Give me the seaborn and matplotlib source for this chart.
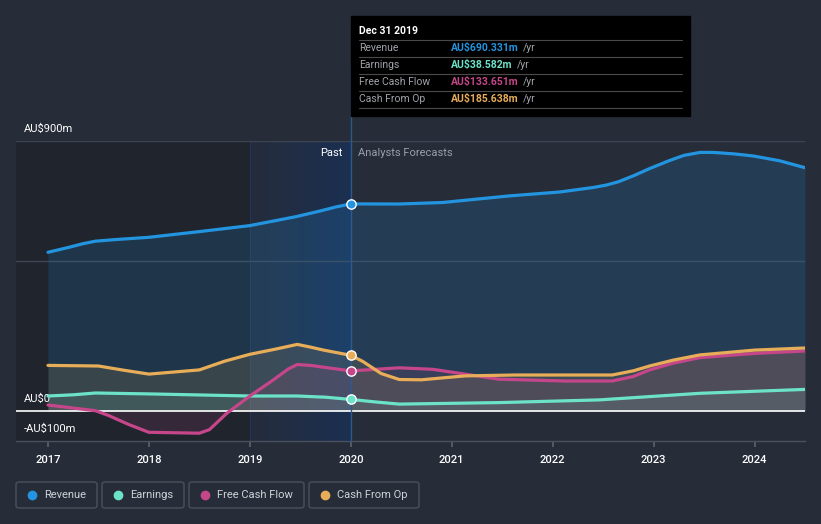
import numpy as np
import pandas as pd
import seaborn as sns
import matplotlib.pyplot as plt
from matplotlib.patches import FancyBboxPatch, Rectangle

# values in AU$m
rev_x = [2017.0, 2017.2, 2017.35, 2017.47, 2017.65, 2018.0, 2018.5, 2019.0,
         2019.46, 2019.7, 2019.85, 2020.0, 2020.48, 2020.91, 2021.57, 2022.07,
         2022.4, 2022.53, 2022.65, 2022.8, 2022.96, 2023.15, 2023.3, 2023.46,
         2023.59, 2023.8, 2023.99, 2024.25, 2024.5]
rev_y = [529, 545, 558, 566, 571, 579, 598, 618,
         648, 667, 680, 690.331, 690, 695, 717, 730,
         745, 753, 764, 784, 808, 834, 852, 862,
         862, 857, 850, 834, 811]

earn_x = [2017.0, 2017.25, 2017.47, 2018.0, 2019.0, 2019.47, 2019.75, 2020.0,
          2020.25, 2020.48, 2021.47, 2022.46, 2022.96, 2023.46, 2024.5]
earn_y = [50, 54, 60, 57, 50, 50, 46, 38.582,
          30, 23, 28, 37, 48, 59, 72]

fcf_x = [2017.0, 2017.47, 2017.6, 2017.8, 2018.0, 2018.5, 2018.6, 2018.77,
         2019.0, 2019.23, 2019.38, 2019.47, 2019.6, 2020.0, 2020.48, 2020.81,
         2021.15, 2021.47, 2022.13, 2022.59, 2022.8, 2022.96, 2023.2, 2023.46,
         2024.0, 2024.5]
fcf_y = [20, 1, -15, -45, -71, -74, -62, -8,
         50, 103, 140, 155, 152, 133.651, 144, 139,
         122, 106, 100, 100, 115, 137, 160, 178,
         192, 200]

cfo_x = [2017.0, 2017.5, 2017.75, 2018.0, 2018.5, 2018.75, 2019.0, 2019.25,
         2019.47, 2019.6, 2019.73, 2020.0, 2020.12, 2020.3, 2020.48, 2020.7,
         2021.13, 2021.63, 2022.59, 2022.8, 2022.96, 2023.2, 2023.46, 2024.0,
         2024.5]
cfo_y = [152, 150, 136, 123, 137, 166, 189, 206,
         222, 213, 203, 185.638, 165, 125, 105, 104,
         117, 120, 120, 134, 150, 170, 187, 203,
         210]

names = ['Revenue', 'Earnings', 'Free Cash Flow', 'Cash From Op']
colors = ['#2394df', '#6ce3c9', '#c5468a', '#e8ad58']
tip_values = ['AU$690.331m', 'AU$38.582m', 'AU$133.651m', 'AU$185.638m']
years = [2017, 2018, 2019, 2020, 2021, 2022, 2023, 2024]

bg = '#262c38'
sns.set_theme(style='dark')
plt.rcParams['font.family'] = ['Roboto', 'DejaVu Sans']

frames = []
for n, xs, ys in zip(names, [rev_x, earn_x, fcf_x, cfo_x], [rev_y, earn_y, fcf_y, cfo_y]):
    frames.append(pd.DataFrame({'year': xs, 'value': ys, 'series': n}))
df = pd.concat(frames)

fig = plt.figure(figsize=(8.21, 5.24), dpi=100, facecolor=bg)
ax = fig.add_axes([16 / 821, 1 - 441 / 524, 789 / 821, 300 / 524])
ax.set_facecolor(bg)
x0 = 2017 - 32 / 101.0
x1 = 2024.5
ax.set_xlim(x0, x1)
ax.set_ylim(-100, 900)

# past shading
ax.axvspan(x0, 2019, color='black', alpha=0.18, lw=0, zorder=0)
grad = np.zeros((2, 256, 4))
grad[..., 0] = 0.10
grad[..., 1] = 0.19
grad[..., 2] = 0.34
grad[..., 3] = np.linspace(0.1, 0.85, 256)[None, :]
ax.imshow(grad, extent=[2019, 2020, -100, 900], aspect='auto', zorder=0.5, interpolation='bilinear')
ax.axvline(2019, color='#23365a', lw=0.8, zorder=0.6)

# gridlines
for g in [900, 500]:
    ax.axhline(g, color='#3e4552', lw=1, zorder=0.7)
ax.axhline(0, color='white', lw=1.2, zorder=3)

# area fills
for n, c in zip(names, colors):
    d = df[df.series == n]
    ax.fill_between(d.year, d.value, 0, color=c, alpha=0.17 if n == 'Revenue' else 0.13, lw=0, zorder=1)

sns.lineplot(data=df, x='year', y='value', hue='series', palette=dict(zip(names, colors)),
             hue_order=names, lw=2.3, ax=ax, legend=False, zorder=4, sort=False,
             estimator=None)
for line in ax.lines:
    line.set_solid_joinstyle('round')
    line.set_solid_capstyle('round')

# markers at Dec 2019
for n, c in zip(names, colors):
    d = df[(df.series == n) & (df.year == 2020.0)]
    ax.scatter(d.year, d.value, s=45, color=c, edgecolor='white', linewidth=1, zorder=6)

ax.plot([2020, 2020], [-100, 1140], color='#2d5a8e', lw=1, zorder=5, clip_on=False)

ax.set_xticks(years)
ax.set_xticklabels([str(y) for y in years], color='white', fontsize=8, fontweight='medium')
ax.tick_params(axis='x', length=4, color='#5a606c', pad=6, bottom=True)
ax.set_yticks([])
ax.set_xlabel('')
ax.set_ylabel('')
for s in ['top', 'right', 'left']:
    ax.spines[s].set_visible(False)
ax.spines['bottom'].set_color('#4a505c')
ax.spines['bottom'].set_linewidth(1)

# y labels
ytrans = ax.get_yaxis_transform()
ax.text(8 / 789, 900 + 12 / 0.3, 'AU$900m', transform=ytrans, color='white', fontsize=8, va='center', clip_on=False)
ax.text(8 / 789, 0 + 12 / 0.3, 'AU$0', transform=ytrans, color='white', fontsize=8, va='center', clip_on=False)
ax.text(8 / 789, -100 + 12 / 0.3, '-AU$100m', transform=ytrans, color='white', fontsize=8, va='center', clip_on=False)

ax.text(2019.92, 860, 'Past', color='white', fontsize=8, ha='right', va='center')
ax.text(2020.07, 860, 'Analysts Forecasts', color='#9aa0aa', fontsize=8, ha='left', va='center')

# tooltip
fig.patches.append(Rectangle((351 / 821, 1 - 116 / 524), 339 / 821, 100 / 524,
                             transform=fig.transFigure, color='black', zorder=10))
fig.text(359 / 821, 1 - 31 / 524, 'Dec 31 2019', color='white', fontsize=7.5,
         fontweight='bold', va='center', zorder=11)
for i, (n, c, v) in enumerate(zip(names, colors, tip_values)):
    yy = 48 + 17 * i
    fig.text(359 / 821, 1 - yy / 524, n, color='#a0a4aa', fontsize=7.5, va='center', zorder=11)
    fig.text(451 / 821, 1 - yy / 524, v, color=c, fontsize=7.5, fontweight='bold', va='center', zorder=11)
    fig.text((451 + 6.2 * len(v) + 4) / 821, 1 - yy / 524, '/yr', color='#a0a4aa', fontsize=7.5, va='center', zorder=11)
for yy in [40, 57, 74, 91, 108]:
    fig.add_artist(plt.Line2D([359 / 821, 682 / 821], [1 - yy / 524, 1 - yy / 524],
                              color='#4a4a4a', lw=0.8, zorder=11))

# legend boxes
boxes = [(16, 81), (102, 82), (189, 115), (309, 110)]
for (bx, bw), n, c in zip(boxes, names, colors):
    fig.patches.append(FancyBboxPatch((bx / 821, 1 - 508 / 524), bw / 821, 26 / 524,
                                      boxstyle='round,pad=0,rounding_size=0.004',
                                      transform=fig.transFigure, facecolor='none',
                                      edgecolor='#4a505c', lw=1))
    fig.add_artist(plt.Line2D([(bx + 16) / 821], [1 - 495 / 524], marker='o', ms=6,
                              color=c, lw=0))
    fig.text((bx + 28) / 821, 1 - 495 / 524, n, color='#d0d3d8', fontsize=8, va='center')

fig.savefig('out.png', dpi=100, facecolor=bg)
